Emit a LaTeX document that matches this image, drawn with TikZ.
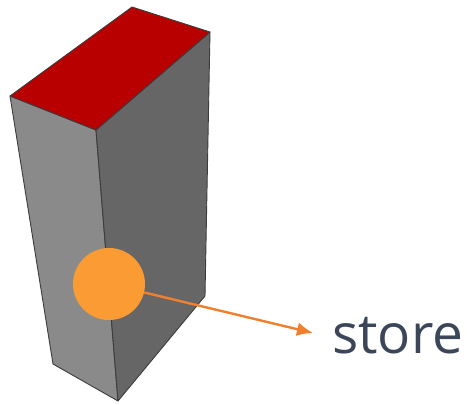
\documentclass[tikz,border=0pt]{standalone}
\usepackage{fontspec}
\setmainfont{Open Sans}
\usetikzlibrary{arrows.meta}
\definecolor{topred}{HTML}{B80000}
\definecolor{orangefill}{HTML}{FB9B33}
\definecolor{orangeline}{HTML}{F0802E}
\definecolor{textslate}{HTML}{3B4659}
\definecolor{edgegray}{HTML}{3C3C3C}
\tikzset{
  face/.style={draw=edgegray,line width=0.9pt,line join=round},
  leftface/.style={face,fill=black!46},
  rightface/.style={face,fill=black!60},
  topface/.style={face,fill=topred},
  storedot/.style={circle,fill=orangefill,minimum size=72pt,inner sep=0pt},
  storelabel/.style={anchor=west,inner ysep=0pt,inner xsep=19pt,text height=40pt,text depth=0pt,text=textslate,font=\fontsize{55}{55}\selectfont},
  pointer/.style={draw=orangeline,line width=2.4pt,-{Latex[length=16pt,width=14pt]}}
}
\begin{document}
\begin{tikzpicture}[x=1pt,y=-1pt]
\useasboundingbox (0,0) rectangle (467,405);
\path[leftface] (10,96) -- (96,130) -- (118,401) -- (53,364) -- cycle;
\path[rightface] (96,130) -- (210,32) -- (205,296) -- (118,401) -- cycle;
\path[topface] (132,7) -- (210,32) -- (96,130) -- (10,96) -- cycle;
\node[storelabel] (store) at (313,333) {store};
\node[storedot] (dot) at (109,284) {};
\draw[pointer] (dot) -- (store.west);
\end{tikzpicture}
\end{document}
